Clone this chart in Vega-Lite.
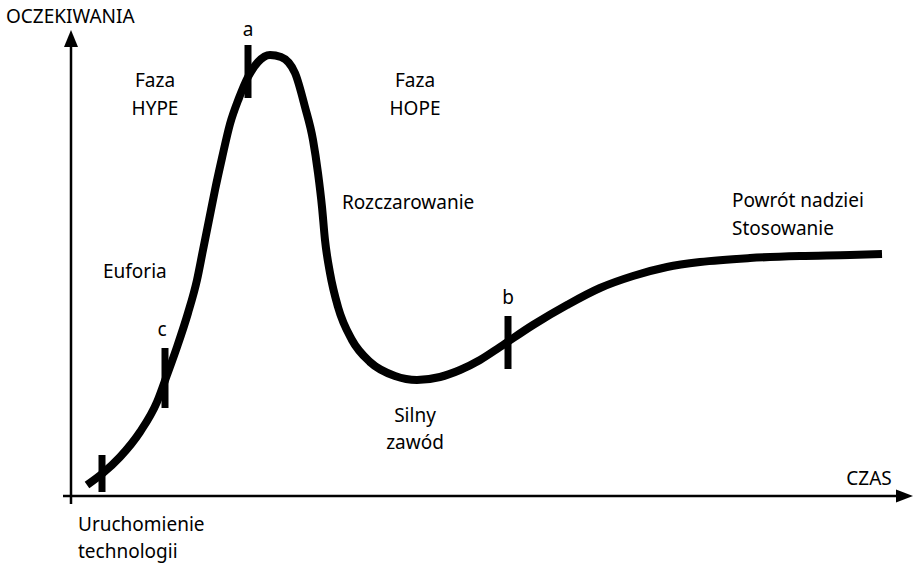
{
  "$schema": "https://vega.github.io/schema/vega-lite/v6.json",
  "width": 915,
  "height": 565,
  "autosize": {"type": "fit", "contains": "padding"},
  "padding": 0,
  "background": "white",
  "config": {"view": {"stroke": null}, "text": {"font": "Noto Sans", "fontSize": 19, "color": "black"}},
  "datasets": {
    "curve": [
      {"t": 16, "e": 11}, {"t": 32, "e": 23}, {"t": 49, "e": 39}, {"t": 69, "e": 64},
      {"t": 86, "e": 94}, {"t": 96, "e": 121}, {"t": 106, "e": 149}, {"t": 117, "e": 183},
      {"t": 126, "e": 216}, {"t": 132, "e": 246}, {"t": 138, "e": 276}, {"t": 144, "e": 306},
      {"t": 151, "e": 338}, {"t": 159, "e": 372}, {"t": 168, "e": 398}, {"t": 177, "e": 419},
      {"t": 187, "e": 434}, {"t": 199, "e": 441}, {"t": 210, "e": 439}, {"t": 224, "e": 423},
      {"t": 234, "e": 389}, {"t": 242, "e": 356}, {"t": 247, "e": 323}, {"t": 251, "e": 289},
      {"t": 254, "e": 256}, {"t": 259, "e": 223}, {"t": 267, "e": 189}, {"t": 281, "e": 156},
      {"t": 299, "e": 134}, {"t": 324, "e": 120}, {"t": 346, "e": 116}, {"t": 369, "e": 119},
      {"t": 389, "e": 126}, {"t": 409, "e": 136}, {"t": 429, "e": 149}, {"t": 462, "e": 171},
      {"t": 496, "e": 191}, {"t": 529, "e": 208}, {"t": 562, "e": 220}, {"t": 596, "e": 229},
      {"t": 629, "e": 234}, {"t": 679, "e": 238}, {"t": 729, "e": 240}, {"t": 779, "e": 241},
      {"t": 811, "e": 242}
    ],
    "ticks": [
      {"t": 31, "e": 4, "e2": 41},
      {"t": 94, "e": 88, "e2": 148},
      {"t": 177, "e": 398, "e2": 451},
      {"t": 437, "e": 127, "e2": 180}
    ],
    "axes": [
      {"t": 0, "e": -8, "t2": 0, "e2": 456},
      {"t": -8, "e": 0, "t2": 832, "e2": 0}
    ],
    "arrowUp": [{"t": 0, "e": 456}],
    "arrowRight": [{"t": 832, "e": 0}],
    "labelsLeft": [
      {"t": -65, "e": 479, "label": "OCZEKIWANIA"},
      {"t": 271, "e": 293, "label": "Rozczarowanie"},
      {"t": 661, "e": 295, "label": "Powrót nadziei"},
      {"t": 661, "e": 267, "label": "Stosowanie"},
      {"t": 32, "e": 224, "label": "Euforia"},
      {"t": 7, "e": -29, "label": "Uruchomienie"},
      {"t": 7, "e": -56, "label": "technologii"}
    ],
    "labelsCenter": [
      {"t": 177, "e": 466, "label": "a"},
      {"t": 84, "e": 415, "label": "Faza"},
      {"t": 84, "e": 387, "label": "HYPE"},
      {"t": 344, "e": 415, "label": "Faza"},
      {"t": 344, "e": 387, "label": "HOPE"},
      {"t": 91, "e": 166, "label": "c"},
      {"t": 437, "e": 198, "label": "b"},
      {"t": 344, "e": 80, "label": "Silny"},
      {"t": 344, "e": 53, "label": "zawód"},
      {"t": 798, "e": 17, "label": "CZAS"}
    ]
  },
  "encoding": {
    "x": {"field": "t", "type": "quantitative", "scale": {"domain": [-71, 844], "nice": false, "zero": false}, "axis": null},
    "y": {"field": "e", "type": "quantitative", "scale": {"domain": [-69, 496], "nice": false, "zero": false}, "axis": null}
  },
  "layer": [
    {
      "data": {"name": "axes"},
      "mark": {"type": "rule", "color": "black", "strokeWidth": 2.5},
      "encoding": {"x2": {"field": "t2"}, "y2": {"field": "e2"}}
    },
    {
      "data": {"name": "arrowUp"},
      "mark": {"type": "point", "shape": "M0,-1L-0.7,0.7L0.7,0.7Z", "filled": true, "color": "black", "opacity": 1, "size": 400}
    },
    {
      "data": {"name": "arrowRight"},
      "mark": {"type": "point", "shape": "M1,0L-0.7,-0.65L-0.7,0.65Z", "filled": true, "color": "black", "opacity": 1, "size": 400}
    },
    {
      "data": {"name": "curve"},
      "mark": {"type": "line", "color": "black", "strokeWidth": 8, "interpolate": "monotone", "strokeCap": "butt"}
    },
    {
      "data": {"name": "ticks"},
      "mark": {"type": "rule", "color": "black", "strokeWidth": 7},
      "encoding": {"y2": {"field": "e2"}}
    },
    {
      "data": {"name": "labelsLeft"},
      "mark": {"type": "text", "align": "left", "baseline": "middle"},
      "encoding": {"text": {"field": "label"}}
    },
    {
      "data": {"name": "labelsCenter"},
      "mark": {"type": "text", "align": "center", "baseline": "middle"},
      "encoding": {"text": {"field": "label"}}
    }
  ]
}
